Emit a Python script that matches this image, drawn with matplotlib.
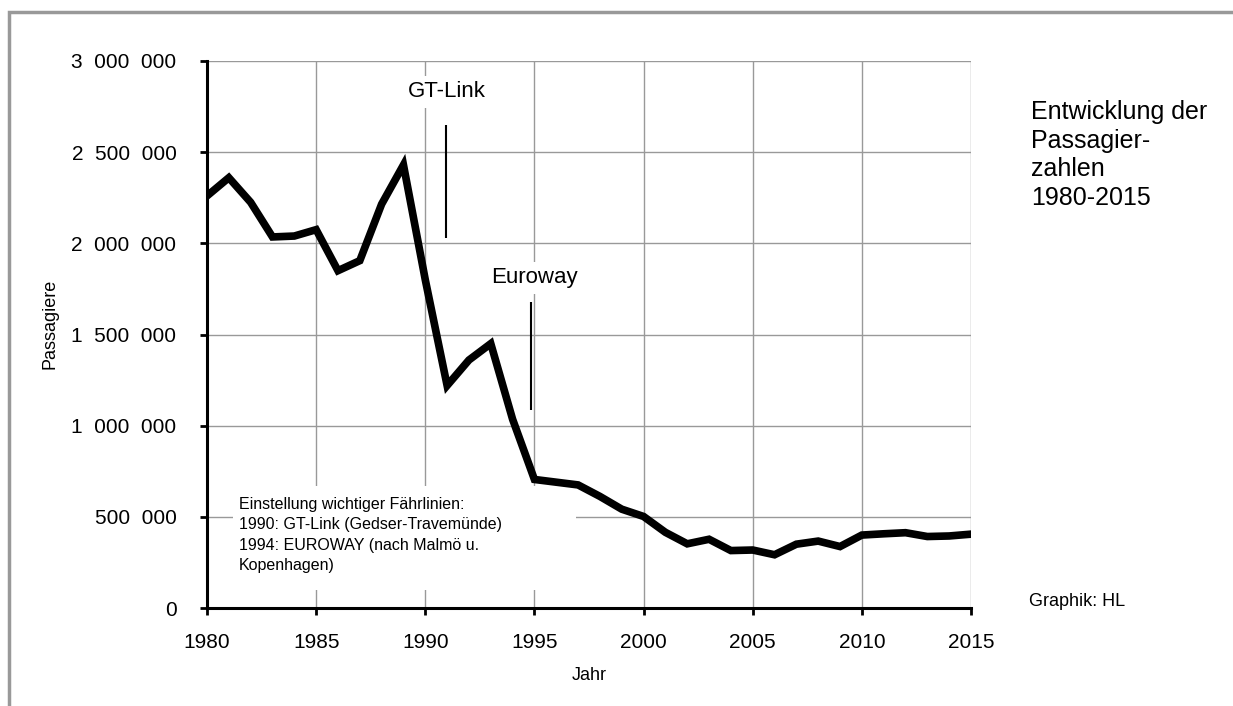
import matplotlib
matplotlib.use("Agg")
import matplotlib.pyplot as plt
from matplotlib.patches import Rectangle
from matplotlib.ticker import FuncFormatter

plt.rcParams['font.family'] = ['Liberation Sans', 'DejaVu Sans']

jahre = list(range(1980, 2016))
passagiere = [2260000, 2360000, 2225000, 2035000, 2040000, 2075000, 1850000, 1905000,
              2215000, 2430000, 1800000, 1220000, 1360000, 1450000, 1035000, 705000,
              690000, 675000, 612000, 542000, 502000, 415000, 352000, 377000,
              315000, 318000, 292000, 350000, 367000, 337000, 400000, 407000,
              413000, 392000, 395000, 405000]

y_ticks = [0, 500000, 1000000, 1500000, 2000000, 2500000, 3000000]
x_ticks = [1980, 1985, 1990, 1995, 2000, 2005, 2010, 2015]

# Markierungen der eingestellten Linien
gt_link = (1990.95, 2030000, 2650000)
euroway = (1994.85, 1085000, 1680000)

fig = plt.figure(figsize=(12.33, 7.06), dpi=100)
ax = fig.add_axes([207/1233, 1-608/706, (971-207)/1233, (608-61)/706])

ax.plot(jahre, passagiere, color='black', linewidth=5.5, solid_joinstyle='miter', zorder=4)

ax.set_xlim(1980, 2015)
ax.set_ylim(0, 3000000)
ax.set_xticks(x_ticks)
ax.set_yticks(y_ticks)


def tausender(v, pos):
    s = f"{int(v):,}".replace(",", "  ")
    return s


ax.yaxis.set_major_formatter(FuncFormatter(tausender))
ax.grid(True, color='#999999', linewidth=1)
ax.set_axisbelow(True)
for s in ['top', 'right']:
    ax.spines[s].set_visible(False)
for s in ['left', 'bottom']:
    ax.spines[s].set_linewidth(2.2)
ax.tick_params(axis='both', direction='out', length=5, width=2, labelsize=15)
ax.tick_params(axis='y', pad=17)
ax.tick_params(axis='x', pad=13)

ax.set_xlabel('Jahr', fontsize=13, labelpad=11)
ax.set_ylabel('Passagiere', fontsize=13, labelpad=12)
ax.yaxis.set_label_coords(-0.195, 0.52)

ax.vlines(gt_link[0], gt_link[1], gt_link[2], color='black', linewidth=1.5, zorder=5)
ax.vlines(euroway[0], euroway[1], euroway[2], color='black', linewidth=1.5, zorder=5)
ax.text(1991.0, 2830000, 'GT-Link', fontsize=16, ha='center', va='center',
        bbox=dict(facecolor='white', edgecolor='none', pad=4), zorder=5)
ax.text(1995.0, 1810000, 'Euroway', fontsize=16, ha='center', va='center',
        bbox=dict(facecolor='white', edgecolor='none', pad=4), zorder=5)

# weisser Hintergrund fuer den Hinweistext
ax.add_patch(Rectangle((1981.2, 100000), 15.7, 570000, facecolor='white',
                       edgecolor='none', zorder=2))
ax.text(1981.45, 610000,
        'Einstellung wichtiger Fährlinien:\n1990: GT-Link (Gedser-Travemünde)\n'
        '1994: EUROWAY (nach Malmö u.\nKopenhagen)',
        fontsize=11.5, ha='left', va='top', linespacing=1.45, zorder=3)

fig.text(1031/1233, 1-100/706, 'Entwicklung der\nPassagier-\nzahlen\n1980-2015',
         fontsize=18, ha='left', va='top', linespacing=1.25)
fig.text(1029/1233, 1-601/706, 'Graphik: HL', fontsize=13, ha='left', va='center')

# grauer Rahmen
fig.patches.append(Rectangle((9/1233, -0.05), 1.1, 1-12/706 + 0.05, transform=fig.transFigure,
                             facecolor='none', edgecolor='#999999', linewidth=2.5))

fig.savefig('out.png', dpi=100)
